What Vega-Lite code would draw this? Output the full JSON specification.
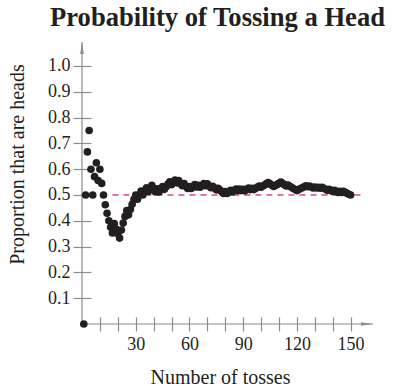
{
  "$schema": "https://vega.github.io/schema/vega-lite/v6.json",
  "width": 291,
  "height": 282,
  "autosize": {"type": "none"},
  "padding": {"left": 82, "top": 42, "right": 20, "bottom": 62},
  "background": "white",
  "title": {"text": "Probability of Tossing a Head", "font": "Liberation Serif", "fontSize": 26.6, "fontWeight": "bold", "color": "#231f20", "anchor": "middle", "frame": "group", "offset": 10, "dx": -10},
  "config": {"view": {"stroke": null}, "axis": {"labelOverlap": false}},
  "datasets": {
    "tosses": [
      {"toss":1,"p":0},{"toss":2,"p":0.5},{"toss":3,"p":0.667},{"toss":4,"p":0.75},{"toss":5,"p":0.6},
      {"toss":6,"p":0.5},{"toss":7,"p":0.571},{"toss":8,"p":0.625},{"toss":9,"p":0.556},{"toss":10,"p":0.6},
      {"toss":11,"p":0.545},{"toss":12,"p":0.5},{"toss":13,"p":0.462},{"toss":14,"p":0.429},{"toss":15,"p":0.4},
      {"toss":16,"p":0.375},{"toss":17,"p":0.353},{"toss":18,"p":0.389},{"toss":19,"p":0.368},{"toss":20,"p":0.35},
      {"toss":21,"p":0.333},{"toss":22,"p":0.364},{"toss":23,"p":0.391},{"toss":24,"p":0.417},{"toss":25,"p":0.44},
      {"toss":26,"p":0.423},{"toss":27,"p":0.444},{"toss":28,"p":0.464},{"toss":29,"p":0.483},{"toss":30,"p":0.5},
      {"toss":31,"p":0.484},{"toss":32,"p":0.5},{"toss":33,"p":0.515},{"toss":34,"p":0.5},{"toss":35,"p":0.514},
      {"toss":36,"p":0.528},{"toss":37,"p":0.514},{"toss":38,"p":0.526},{"toss":39,"p":0.538},{"toss":40,"p":0.525},
      {"toss":41,"p":0.512},{"toss":42,"p":0.524},{"toss":43,"p":0.512},{"toss":44,"p":0.523},{"toss":45,"p":0.533},
      {"toss":46,"p":0.522},{"toss":47,"p":0.532},{"toss":48,"p":0.542},{"toss":49,"p":0.551},{"toss":50,"p":0.54},
      {"toss":51,"p":0.549},{"toss":52,"p":0.558},{"toss":53,"p":0.547},{"toss":54,"p":0.556},{"toss":55,"p":0.545},
      {"toss":56,"p":0.536},{"toss":57,"p":0.544},{"toss":58,"p":0.534},{"toss":59,"p":0.525},{"toss":60,"p":0.533},
      {"toss":61,"p":0.525},{"toss":62,"p":0.532},{"toss":63,"p":0.54},{"toss":64,"p":0.531},{"toss":65,"p":0.538},
      {"toss":66,"p":0.53},{"toss":67,"p":0.537},{"toss":68,"p":0.544},{"toss":69,"p":0.536},{"toss":70,"p":0.543},
      {"toss":71,"p":0.535},{"toss":72,"p":0.528},{"toss":73,"p":0.534},{"toss":74,"p":0.527},{"toss":75,"p":0.52},
      {"toss":76,"p":0.526},{"toss":77,"p":0.519},{"toss":78,"p":0.513},{"toss":79,"p":0.506},{"toss":80,"p":0.513},
      {"toss":81,"p":0.506},{"toss":82,"p":0.512},{"toss":83,"p":0.518},{"toss":84,"p":0.512},{"toss":85,"p":0.518},
      {"toss":86,"p":0.523},{"toss":87,"p":0.517},{"toss":88,"p":0.523},{"toss":89,"p":0.517},{"toss":90,"p":0.522},
      {"toss":91,"p":0.516},{"toss":92,"p":0.522},{"toss":93,"p":0.527},{"toss":94,"p":0.521},{"toss":95,"p":0.526},
      {"toss":96,"p":0.521},{"toss":97,"p":0.526},{"toss":98,"p":0.531},{"toss":99,"p":0.535},{"toss":100,"p":0.53},
      {"toss":101,"p":0.535},{"toss":102,"p":0.539},{"toss":103,"p":0.544},{"toss":104,"p":0.548},{"toss":105,"p":0.543},
      {"toss":106,"p":0.538},{"toss":107,"p":0.533},{"toss":108,"p":0.537},{"toss":109,"p":0.541},{"toss":110,"p":0.545},
      {"toss":111,"p":0.55},{"toss":112,"p":0.545},{"toss":113,"p":0.54},{"toss":114,"p":0.535},{"toss":115,"p":0.539},
      {"toss":116,"p":0.534},{"toss":117,"p":0.53},{"toss":118,"p":0.525},{"toss":119,"p":0.521},{"toss":120,"p":0.517},
      {"toss":121,"p":0.521},{"toss":122,"p":0.525},{"toss":123,"p":0.528},{"toss":124,"p":0.532},{"toss":125,"p":0.536},
      {"toss":126,"p":0.532},{"toss":127,"p":0.535},{"toss":128,"p":0.531},{"toss":129,"p":0.527},{"toss":130,"p":0.531},
      {"toss":131,"p":0.527},{"toss":132,"p":0.53},{"toss":133,"p":0.526},{"toss":134,"p":0.53},{"toss":135,"p":0.526},
      {"toss":136,"p":0.522},{"toss":137,"p":0.518},{"toss":138,"p":0.522},{"toss":139,"p":0.518},{"toss":140,"p":0.514},
      {"toss":141,"p":0.518},{"toss":142,"p":0.514},{"toss":143,"p":0.51},{"toss":144,"p":0.514},{"toss":145,"p":0.51},
      {"toss":146,"p":0.514},{"toss":147,"p":0.51},{"toss":148,"p":0.507},{"toss":149,"p":0.503},{"toss":150,"p":0.5}
    ]
  },
  "layer": [
    {
      "data": {"values": [{"toss": 0, "toss2": 162.5, "p": 0, "p2": 0}, {"toss": 0, "toss2": 0, "p": 0, "p2": 1.093}]},
      "mark": {"type": "rule", "color": "#8c8c8c", "strokeWidth": 1.2},
      "encoding": {
        "x": {
          "field": "toss", "type": "quantitative",
          "scale": {"domain": [0, 162.5], "nice": false, "zero": false},
          "axis": {
            "values": [10, 20, 30, 40, 50, 60, 70, 80, 90, 100, 110, 120, 130, 140, 150],
            "tickCount": 30,
            "labelExpr": "datum.value % 30 === 0 ? datum.label : ''",
            "labelOverlap": false,
            "domain": false, "grid": false, "offset": -7, "tickSize": 14, "tickColor": "#8c8c8c", "tickWidth": 1.2,
            "labelFont": "Liberation Serif", "labelFontSize": 18, "labelColor": "#231f20", "labelPadding": 4,
            "title": "Number of tosses", "titleFont": "Liberation Serif", "titleFontSize": 20, "titleFontWeight": "normal",
            "titleColor": "#231f20", "titlePadding": 14, "titleX": 138
          }
        },
        "x2": {"field": "toss2"},
        "y": {
          "field": "p", "type": "quantitative",
          "scale": {"domain": [0, 1.093], "nice": false, "zero": false},
          "axis": {
            "values": [0.1, 0.2, 0.3, 0.4, 0.5, 0.6, 0.7, 0.8, 0.9, 1.0],
            "tickCount": 30,
            "format": ".1f",
            "labelOverlap": false,
            "domain": false, "grid": false, "offset": -9, "tickSize": 18, "tickColor": "#8c8c8c", "tickWidth": 1.2,
            "labelFont": "Liberation Serif", "labelFontSize": 18, "labelColor": "#231f20", "labelPadding": 3,
            "title": "Proportion that are heads", "titleFont": "Liberation Serif", "titleFontSize": 20, "titleFontWeight": "normal",
            "titleColor": "#231f20", "titlePadding": 20, "titleY": 122
          }
        },
        "y2": {"field": "p2"}
      }
    },
    {
      "data": {"values": [{"toss": 0, "p": 1.07}]},
      "mark": {"type": "point", "shape": "M0,-1L0.3,1L-0.3,1Z", "size": 144, "filled": true, "color": "#8c8c8c", "opacity": 1},
      "encoding": {
        "x": {"field": "toss", "type": "quantitative"},
        "y": {"field": "p", "type": "quantitative"}
      }
    },
    {
      "data": {"values": [{"toss": 159.1, "p": 0}]},
      "mark": {"type": "point", "shape": "M1,0L-1,-0.3L-1,0.3Z", "size": 144, "filled": true, "color": "#8c8c8c", "opacity": 1},
      "encoding": {
        "x": {"field": "toss", "type": "quantitative"},
        "y": {"field": "p", "type": "quantitative"}
      }
    },
    {
      "data": {"values": [{"toss": 17, "toss2": 156, "p": 0.5}]},
      "mark": {"type": "rule", "color": "#e2409a", "strokeWidth": 1.5, "strokeDash": [6, 5]},
      "encoding": {
        "x": {"field": "toss", "type": "quantitative"},
        "x2": {"field": "toss2"},
        "y": {"field": "p", "type": "quantitative"}
      }
    },
    {
      "data": {"name": "tosses"},
      "mark": {"type": "circle", "size": 58, "color": "#231f20", "opacity": 1},
      "encoding": {
        "x": {"field": "toss", "type": "quantitative"},
        "y": {"field": "p", "type": "quantitative"}
      }
    }
  ]
}
